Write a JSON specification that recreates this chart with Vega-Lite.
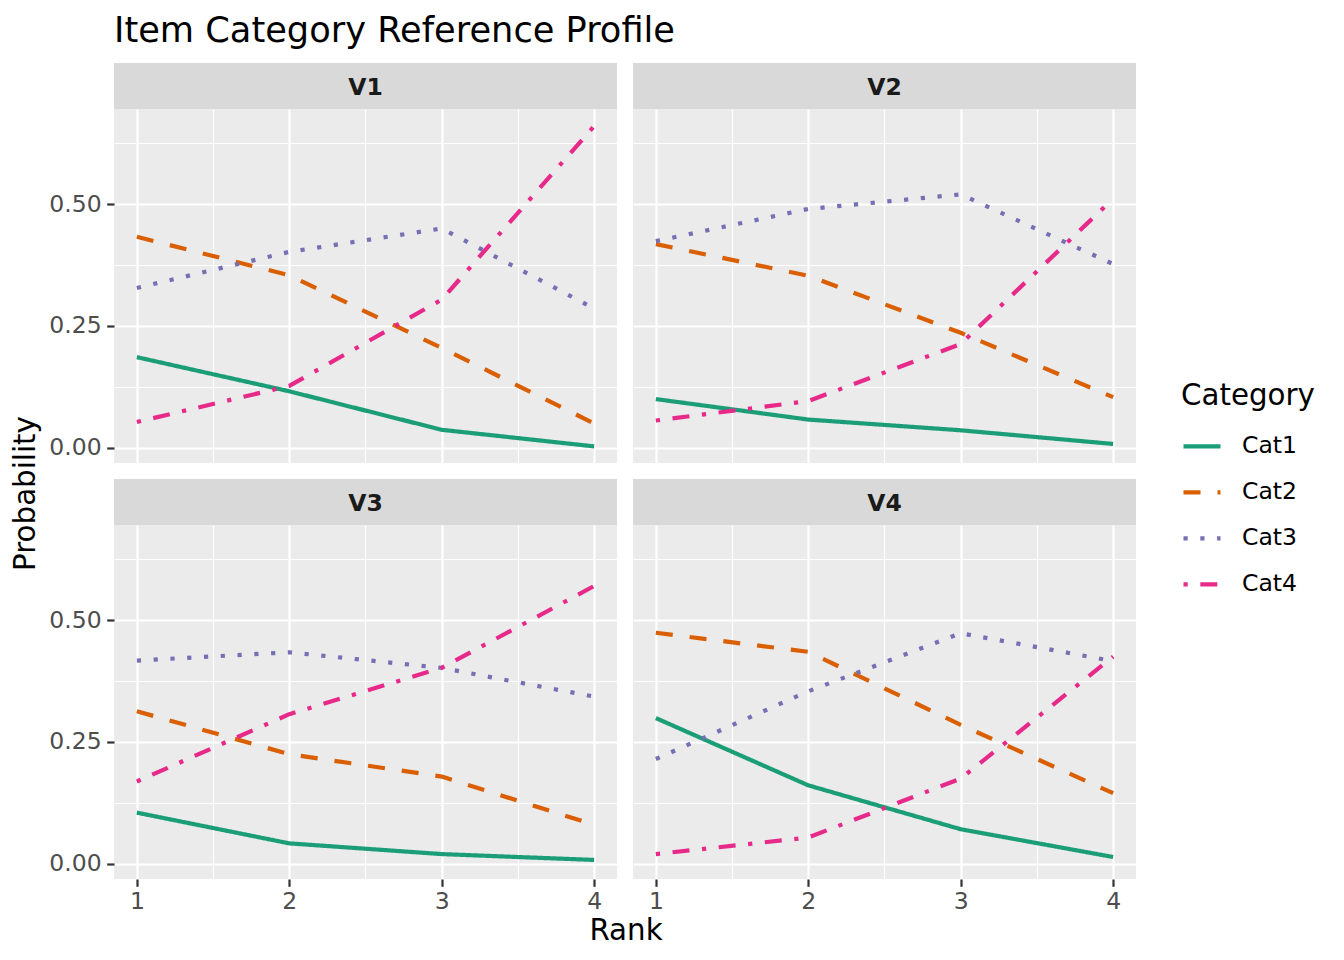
{
  "$schema": "https://vega.github.io/schema/vega-lite/v6.json",
  "autosize": {"type": "pad"},
  "padding": {"left": 11, "top": 13, "right": 20, "bottom": 10},
  "background": "#FFFFFF",
  "title": {"text": "Item Category Reference Profile", "anchor": "start", "frame": "group", "fontSize": 35.2, "fontWeight": "normal", "color": "#000000", "font": "DejaVu Sans", "offset": 14},
  "datasets": {
    "d": [
      {"panel": "V1", "Rank": 1, "Category": "Cat1", "Probability": 0.186},
      {"panel": "V1", "Rank": 2, "Category": "Cat1", "Probability": 0.116},
      {"panel": "V1", "Rank": 3, "Category": "Cat1", "Probability": 0.037},
      {"panel": "V1", "Rank": 4, "Category": "Cat1", "Probability": 0.003},
      {"panel": "V1", "Rank": 1, "Category": "Cat2", "Probability": 0.433},
      {"panel": "V1", "Rank": 2, "Category": "Cat2", "Probability": 0.354},
      {"panel": "V1", "Rank": 3, "Category": "Cat2", "Probability": 0.205},
      {"panel": "V1", "Rank": 4, "Category": "Cat2", "Probability": 0.050},
      {"panel": "V1", "Rank": 1, "Category": "Cat3", "Probability": 0.328},
      {"panel": "V1", "Rank": 2, "Category": "Cat3", "Probability": 0.402},
      {"panel": "V1", "Rank": 3, "Category": "Cat3", "Probability": 0.450},
      {"panel": "V1", "Rank": 4, "Category": "Cat3", "Probability": 0.286},
      {"panel": "V1", "Rank": 1, "Category": "Cat4", "Probability": 0.053},
      {"panel": "V1", "Rank": 2, "Category": "Cat4", "Probability": 0.127},
      {"panel": "V1", "Rank": 3, "Category": "Cat4", "Probability": 0.304},
      {"panel": "V1", "Rank": 4, "Category": "Cat4", "Probability": 0.660},
      {"panel": "V2", "Rank": 1, "Category": "Cat1", "Probability": 0.100},
      {"panel": "V2", "Rank": 2, "Category": "Cat1", "Probability": 0.058},
      {"panel": "V2", "Rank": 3, "Category": "Cat1", "Probability": 0.036},
      {"panel": "V2", "Rank": 4, "Category": "Cat1", "Probability": 0.008},
      {"panel": "V2", "Rank": 1, "Category": "Cat2", "Probability": 0.418},
      {"panel": "V2", "Rank": 2, "Category": "Cat2", "Probability": 0.353},
      {"panel": "V2", "Rank": 3, "Category": "Cat2", "Probability": 0.236},
      {"panel": "V2", "Rank": 4, "Category": "Cat2", "Probability": 0.104},
      {"panel": "V2", "Rank": 1, "Category": "Cat3", "Probability": 0.424},
      {"panel": "V2", "Rank": 2, "Category": "Cat3", "Probability": 0.490},
      {"panel": "V2", "Rank": 3, "Category": "Cat3", "Probability": 0.520},
      {"panel": "V2", "Rank": 4, "Category": "Cat3", "Probability": 0.377},
      {"panel": "V2", "Rank": 1, "Category": "Cat4", "Probability": 0.056},
      {"panel": "V2", "Rank": 2, "Category": "Cat4", "Probability": 0.096},
      {"panel": "V2", "Rank": 3, "Category": "Cat4", "Probability": 0.213},
      {"panel": "V2", "Rank": 4, "Category": "Cat4", "Probability": 0.511},
      {"panel": "V3", "Rank": 1, "Category": "Cat1", "Probability": 0.105},
      {"panel": "V3", "Rank": 2, "Category": "Cat1", "Probability": 0.042},
      {"panel": "V3", "Rank": 3, "Category": "Cat1", "Probability": 0.020},
      {"panel": "V3", "Rank": 4, "Category": "Cat1", "Probability": 0.008},
      {"panel": "V3", "Rank": 1, "Category": "Cat2", "Probability": 0.313},
      {"panel": "V3", "Rank": 2, "Category": "Cat2", "Probability": 0.225},
      {"panel": "V3", "Rank": 3, "Category": "Cat2", "Probability": 0.179},
      {"panel": "V3", "Rank": 4, "Category": "Cat2", "Probability": 0.080},
      {"panel": "V3", "Rank": 1, "Category": "Cat3", "Probability": 0.417},
      {"panel": "V3", "Rank": 2, "Category": "Cat3", "Probability": 0.434},
      {"panel": "V3", "Rank": 3, "Category": "Cat3", "Probability": 0.402},
      {"panel": "V3", "Rank": 4, "Category": "Cat3", "Probability": 0.343},
      {"panel": "V3", "Rank": 1, "Category": "Cat4", "Probability": 0.169},
      {"panel": "V3", "Rank": 2, "Category": "Cat4", "Probability": 0.307},
      {"panel": "V3", "Rank": 3, "Category": "Cat4", "Probability": 0.402},
      {"panel": "V3", "Rank": 4, "Category": "Cat4", "Probability": 0.570},
      {"panel": "V4", "Rank": 1, "Category": "Cat1", "Probability": 0.299},
      {"panel": "V4", "Rank": 2, "Category": "Cat1", "Probability": 0.161},
      {"panel": "V4", "Rank": 3, "Category": "Cat1", "Probability": 0.071},
      {"panel": "V4", "Rank": 4, "Category": "Cat1", "Probability": 0.014},
      {"panel": "V4", "Rank": 1, "Category": "Cat2", "Probability": 0.474},
      {"panel": "V4", "Rank": 2, "Category": "Cat2", "Probability": 0.435},
      {"panel": "V4", "Rank": 3, "Category": "Cat2", "Probability": 0.285},
      {"panel": "V4", "Rank": 4, "Category": "Cat2", "Probability": 0.145},
      {"panel": "V4", "Rank": 1, "Category": "Cat3", "Probability": 0.215},
      {"panel": "V4", "Rank": 2, "Category": "Cat3", "Probability": 0.354},
      {"panel": "V4", "Rank": 3, "Category": "Cat3", "Probability": 0.473},
      {"panel": "V4", "Rank": 4, "Category": "Cat3", "Probability": 0.416},
      {"panel": "V4", "Rank": 1, "Category": "Cat4", "Probability": 0.020},
      {"panel": "V4", "Rank": 2, "Category": "Cat4", "Probability": 0.054},
      {"panel": "V4", "Rank": 3, "Category": "Cat4", "Probability": 0.175},
      {"panel": "V4", "Rank": 4, "Category": "Cat4", "Probability": 0.425}
    ]
  },
  "data": {"name": "d"},
  "bounds": "flush",
  "columns": 2,
  "spacing": {"row": 0, "column": 16},
  "concat": [
    {
      "width": 503, "height": 46,
      "view": {"fill": "#D9D9D9", "stroke": null},
      "transform": [{"filter": "datum.panel === 'V1'"}, {"aggregate": [{"op": "count", "as": "n"}], "groupby": ["panel"]}],
      "mark": {"type": "text", "fontSize": 23.5, "fontWeight": "bold", "color": "#1A1A1A", "baseline": "middle", "align": "center", "font": "DejaVu Sans", "dy": 2},
      "encoding": {"text": {"field": "panel", "type": "nominal"}}
    },
    {
      "width": 503, "height": 46,
      "view": {"fill": "#D9D9D9", "stroke": null},
      "transform": [{"filter": "datum.panel === 'V2'"}, {"aggregate": [{"op": "count", "as": "n"}], "groupby": ["panel"]}],
      "mark": {"type": "text", "fontSize": 23.5, "fontWeight": "bold", "color": "#1A1A1A", "baseline": "middle", "align": "center", "font": "DejaVu Sans", "dy": 2},
      "encoding": {"text": {"field": "panel", "type": "nominal"}}
    },
    {
      "width": 503, "height": 354,
      "view": {"fill": "#EBEBEB", "stroke": null},
      "transform": [{"filter": "datum.panel === 'V1'"}],
      "mark": {"type": "line", "strokeWidth": 4.2, "strokeJoin": "round", "strokeCap": "butt"},
      "encoding": {
        "x": {"field": "Rank", "type": "quantitative", "scale": {"domain": [0.85, 4.15], "nice": false, "zero": false},
          "axis": {"values": [1, 1.5, 2, 2.5, 3, 3.5, 4], "labels": false, "ticks": false, "domain": false, "title": null, "gridColor": "#FFFFFF", "gridWidth": {"condition": {"test": "datum.value % 1 === 0", "value": 2.2}, "value": 1.1}}},
        "y": {"field": "Probability", "type": "quantitative", "scale": {"domain": [-0.0311, 0.6951], "nice": false, "zero": false},
          "axis": {"values": [0, 0.125, 0.25, 0.375, 0.5, 0.625], "labelExpr": "datum.value % 0.25 === 0 ? format(datum.value, '.2f') : ''", "labelOverlap": false, "labelFlush": false, "tickOpacity": {"condition": {"test": "datum.value % 0.25 === 0", "value": 1}, "value": 0}, "gridColor": "#FFFFFF", "gridWidth": {"condition": {"test": "datum.value % 0.25 === 0", "value": 2.2}, "value": 1.1}, "title": "Probability", "titleY": 384, "titlePadding": 8}},
        "color": {"field": "Category", "type": "nominal", "scale": {"domain": ["Cat1", "Cat2", "Cat3", "Cat4"], "range": ["#1B9E77", "#D95F02", "#7570B3", "#E7298A"]},
          "legend": {"title": "Category", "orient": "none", "legendX": 1067, "legendY": 319}},
        "strokeDash": {"field": "Category", "type": "nominal", "scale": {"domain": ["Cat1", "Cat2", "Cat3", "Cat4"], "range": [[1, 0], [17, 17], [4.2, 12.6], [4.2, 12.6, 17, 12.6]]},
          "legend": {"title": "Category", "orient": "none", "legendX": 1067, "legendY": 319}}
      }
    },
    {
      "width": 503, "height": 354,
      "view": {"fill": "#EBEBEB", "stroke": null},
      "transform": [{"filter": "datum.panel === 'V2'"}],
      "mark": {"type": "line", "strokeWidth": 4.2, "strokeJoin": "round", "strokeCap": "butt"},
      "encoding": {
        "x": {"field": "Rank", "type": "quantitative", "scale": {"domain": [0.85, 4.15], "nice": false, "zero": false},
          "axis": {"values": [1, 1.5, 2, 2.5, 3, 3.5, 4], "labels": false, "ticks": false, "domain": false, "title": null, "gridColor": "#FFFFFF", "gridWidth": {"condition": {"test": "datum.value % 1 === 0", "value": 2.2}, "value": 1.1}}},
        "y": {"field": "Probability", "type": "quantitative", "scale": {"domain": [-0.0311, 0.6951], "nice": false, "zero": false},
          "axis": {"values": [0, 0.125, 0.25, 0.375, 0.5, 0.625], "labels": false, "ticks": false, "domain": false, "title": null, "gridColor": "#FFFFFF", "gridWidth": {"condition": {"test": "datum.value % 0.25 === 0", "value": 2.2}, "value": 1.1}}},
        "color": {"field": "Category", "type": "nominal", "scale": {"domain": ["Cat1", "Cat2", "Cat3", "Cat4"], "range": ["#1B9E77", "#D95F02", "#7570B3", "#E7298A"]},
          "legend": {"title": "Category", "orient": "none", "legendX": 1067, "legendY": 319}},
        "strokeDash": {"field": "Category", "type": "nominal", "scale": {"domain": ["Cat1", "Cat2", "Cat3", "Cat4"], "range": [[1, 0], [17, 17], [4.2, 12.6], [4.2, 12.6, 17, 12.6]]},
          "legend": {"title": "Category", "orient": "none", "legendX": 1067, "legendY": 319}}
      }
    },
    {
      "width": 503, "height": 16,
      "view": {"fill": null, "stroke": null},
      "transform": [{"filter": "false"}],
      "mark": {"type": "text"},
      "encoding": {"text": {"field": "panel", "type": "nominal"}}
    },
    {
      "width": 503, "height": 16,
      "view": {"fill": null, "stroke": null},
      "transform": [{"filter": "false"}],
      "mark": {"type": "text"},
      "encoding": {"text": {"field": "panel", "type": "nominal"}}
    },
    {
      "width": 503, "height": 46,
      "view": {"fill": "#D9D9D9", "stroke": null},
      "transform": [{"filter": "datum.panel === 'V3'"}, {"aggregate": [{"op": "count", "as": "n"}], "groupby": ["panel"]}],
      "mark": {"type": "text", "fontSize": 23.5, "fontWeight": "bold", "color": "#1A1A1A", "baseline": "middle", "align": "center", "font": "DejaVu Sans", "dy": 2},
      "encoding": {"text": {"field": "panel", "type": "nominal"}}
    },
    {
      "width": 503, "height": 46,
      "view": {"fill": "#D9D9D9", "stroke": null},
      "transform": [{"filter": "datum.panel === 'V4'"}, {"aggregate": [{"op": "count", "as": "n"}], "groupby": ["panel"]}],
      "mark": {"type": "text", "fontSize": 23.5, "fontWeight": "bold", "color": "#1A1A1A", "baseline": "middle", "align": "center", "font": "DejaVu Sans", "dy": 2},
      "encoding": {"text": {"field": "panel", "type": "nominal"}}
    },
    {
      "width": 503, "height": 354,
      "view": {"fill": "#EBEBEB", "stroke": null},
      "transform": [{"filter": "datum.panel === 'V3'"}],
      "mark": {"type": "line", "strokeWidth": 4.2, "strokeJoin": "round", "strokeCap": "butt"},
      "encoding": {
        "x": {"field": "Rank", "type": "quantitative", "scale": {"domain": [0.85, 4.15], "nice": false, "zero": false},
          "axis": {"values": [1, 1.5, 2, 2.5, 3, 3.5, 4], "labelExpr": "datum.value % 1 === 0 ? format(datum.value, 'd') : ''", "labelOverlap": false, "labelFlush": false, "labelPadding": 3, "tickOpacity": {"condition": {"test": "datum.value % 1 === 0", "value": 1}, "value": 0}, "gridColor": "#FFFFFF", "gridWidth": {"condition": {"test": "datum.value % 1 === 0", "value": 2.2}, "value": 1.1}, "title": "Rank", "titleX": 511.5, "titlePadding": 4}},
        "y": {"field": "Probability", "type": "quantitative", "scale": {"domain": [-0.0311, 0.6951], "nice": false, "zero": false},
          "axis": {"values": [0, 0.125, 0.25, 0.375, 0.5, 0.625], "labelExpr": "datum.value % 0.25 === 0 ? format(datum.value, '.2f') : ''", "labelOverlap": false, "labelFlush": false, "tickOpacity": {"condition": {"test": "datum.value % 0.25 === 0", "value": 1}, "value": 0}, "gridColor": "#FFFFFF", "gridWidth": {"condition": {"test": "datum.value % 0.25 === 0", "value": 2.2}, "value": 1.1}, "title": null}},
        "color": {"field": "Category", "type": "nominal", "scale": {"domain": ["Cat1", "Cat2", "Cat3", "Cat4"], "range": ["#1B9E77", "#D95F02", "#7570B3", "#E7298A"]},
          "legend": {"title": "Category", "orient": "none", "legendX": 1067, "legendY": 319}},
        "strokeDash": {"field": "Category", "type": "nominal", "scale": {"domain": ["Cat1", "Cat2", "Cat3", "Cat4"], "range": [[1, 0], [17, 17], [4.2, 12.6], [4.2, 12.6, 17, 12.6]]},
          "legend": {"title": "Category", "orient": "none", "legendX": 1067, "legendY": 319}}
      }
    },
    {
      "width": 503, "height": 354,
      "view": {"fill": "#EBEBEB", "stroke": null},
      "transform": [{"filter": "datum.panel === 'V4'"}],
      "mark": {"type": "line", "strokeWidth": 4.2, "strokeJoin": "round", "strokeCap": "butt"},
      "encoding": {
        "x": {"field": "Rank", "type": "quantitative", "scale": {"domain": [0.85, 4.15], "nice": false, "zero": false},
          "axis": {"values": [1, 1.5, 2, 2.5, 3, 3.5, 4], "labelExpr": "datum.value % 1 === 0 ? format(datum.value, 'd') : ''", "labelOverlap": false, "labelFlush": false, "labelPadding": 3, "tickOpacity": {"condition": {"test": "datum.value % 1 === 0", "value": 1}, "value": 0}, "gridColor": "#FFFFFF", "gridWidth": {"condition": {"test": "datum.value % 1 === 0", "value": 2.2}, "value": 1.1}, "title": null}},
        "y": {"field": "Probability", "type": "quantitative", "scale": {"domain": [-0.0311, 0.6951], "nice": false, "zero": false},
          "axis": {"values": [0, 0.125, 0.25, 0.375, 0.5, 0.625], "labels": false, "ticks": false, "domain": false, "title": null, "gridColor": "#FFFFFF", "gridWidth": {"condition": {"test": "datum.value % 0.25 === 0", "value": 2.2}, "value": 1.1}}},
        "color": {"field": "Category", "type": "nominal", "scale": {"domain": ["Cat1", "Cat2", "Cat3", "Cat4"], "range": ["#1B9E77", "#D95F02", "#7570B3", "#E7298A"]},
          "legend": {"title": "Category", "orient": "none", "legendX": 1067, "legendY": 319}},
        "strokeDash": {"field": "Category", "type": "nominal", "scale": {"domain": ["Cat1", "Cat2", "Cat3", "Cat4"], "range": [[1, 0], [17, 17], [4.2, 12.6], [4.2, 12.6, 17, 12.6]]},
          "legend": {"title": "Category", "orient": "none", "legendX": 1067, "legendY": 319}}
      }
    }
  ],
  "config": {
    "font": "DejaVu Sans",
    "view": {"stroke": null},
    "axis": {
      "labelFont": "DejaVu Sans", "labelFontSize": 23.5, "labelColor": "#4D4D4D",
      "tickColor": "#333333", "tickSize": 7.3, "tickWidth": 2.2, "labelPadding": 5.5,
      "domain": false, "grid": true,
      "titleFont": "DejaVu Sans", "titleFontSize": 29.3, "titleColor": "#000000", "titleFontWeight": "normal"
    },
    "legend": {
      "symbolType": "stroke", "symbolSize": 1369, "symbolStrokeWidth": 4.2,
      "labelFont": "DejaVu Sans", "labelFontSize": 23.5, "labelColor": "#000000",
      "titleFont": "DejaVu Sans", "titleFontSize": 29.3, "titleColor": "#000000", "titleFontWeight": "normal",
      "labelOffset": 19, "rowPadding": 13, "titlePadding": 14
    }
  }
}
